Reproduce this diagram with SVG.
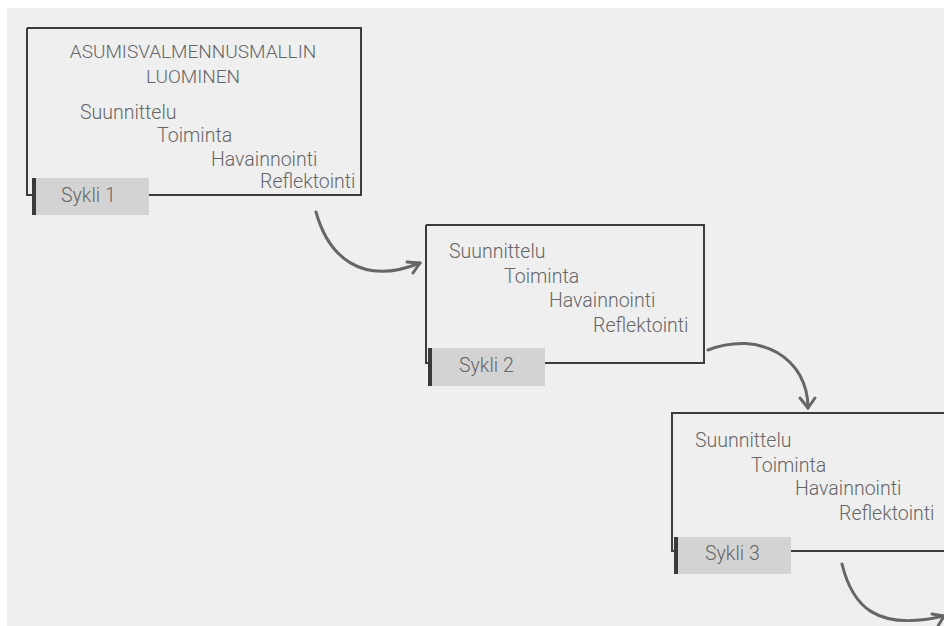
<svg xmlns="http://www.w3.org/2000/svg" width="944" height="626" viewBox="0 0 944 626">
<style>
.box{fill:none;stroke:#3c3c3c;stroke-width:2}
.tab{fill:#d3d3d4}
.bar{fill:#3a3a3a}
.t{font-family:Roboto,"Liberation Sans",sans-serif;font-weight:300;font-size:19.5px;fill:#666}
.ti{font-family:Roboto,"Liberation Sans",sans-serif;font-weight:300;font-size:19px;fill:#666;text-anchor:middle}
.arr{fill:none;stroke:#666;stroke-width:3;stroke-linecap:round;stroke-linejoin:round}
</style>
<rect x="0" y="0" width="944" height="626" fill="#ffffff"/>
<rect x="7" y="8" width="937" height="618" fill="#efefef"/>
<g id="cycle1">
<path class="box" d="M27,28 H361 V195 H149 M33,195 H27 V28"/>
<rect class="tab" x="33" y="178" width="116" height="37"/>
<rect class="bar" x="32" y="178" width="4" height="37"/>
<text class="ti" x="193" y="58">ASUMISVALMENNUSMALLIN</text>
<text class="ti" x="193" y="83">LUOMINEN</text>
<text class="t" x="80" y="119">Suunnittelu</text>
<text class="t" x="157" y="142">Toiminta</text>
<text class="t" x="211" y="166">Havainnointi</text>
<text class="t" x="260" y="188">Reflektointi</text>
<text class="t" x="61" y="202">Sykli 1</text>
</g>
<g id="cycle2">
<path class="box" d="M426,225 H704 V363 H545 M429,363 H426 V225"/>
<rect class="tab" x="429" y="348" width="116" height="38"/>
<rect class="bar" x="428" y="348" width="4" height="38"/>
<text class="t" x="449" y="258">Suunnittelu</text>
<text class="t" x="504" y="283">Toiminta</text>
<text class="t" x="549" y="307">Havainnointi</text>
<text class="t" x="593" y="332">Reflektointi</text>
<text class="t" x="459" y="372">Sykli 2</text>
</g>
<g id="cycle3">
<path class="box" d="M946,413 H672 V551 H675 M791,551 H946"/>
<rect class="tab" x="675" y="537" width="116" height="37"/>
<rect class="bar" x="674" y="537" width="4" height="37"/>
<text class="t" x="695" y="447">Suunnittelu</text>
<text class="t" x="751" y="472">Toiminta</text>
<text class="t" x="795" y="495">Havainnointi</text>
<text class="t" x="839" y="520">Reflektointi</text>
<text class="t" x="705" y="560">Sykli 3</text>
</g>
<g id="connectors">
<path class="arr" d="M316,212 C328,255 360,287 420,263"/>
<path class="arr" d="M407,262 L420,263 L413,273"/>
<path class="arr" d="M708,350 C760,330 808,358 808,408"/>
<path class="arr" d="M800,398 L808,408 L815,398"/>
<path class="arr" d="M842,564 C852,605 875,632 944,616"/>
<path class="arr" d="M932,614 L944,616 L938,626"/>
</g>
</svg>
